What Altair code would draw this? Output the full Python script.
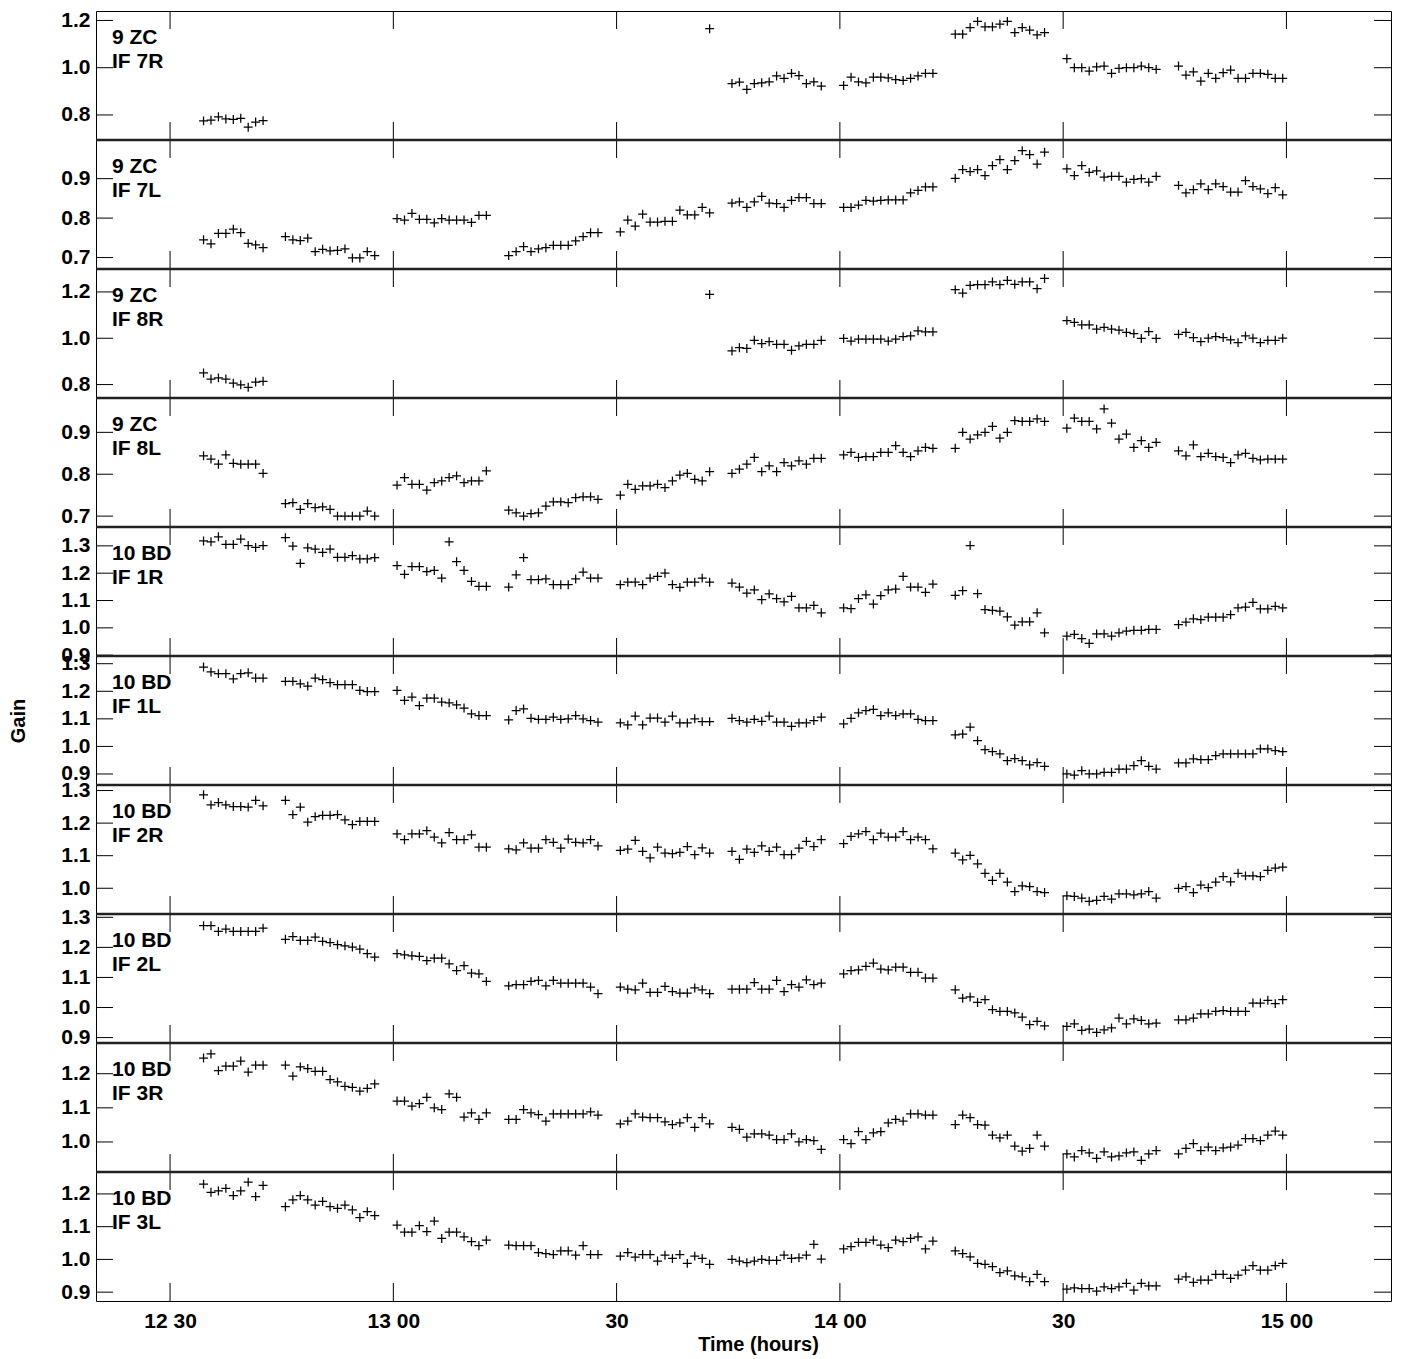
import pandas as pd
import altair as alt

FONT = "Liberation Sans"

# scan times in minutes after 12:00, one list per scan block
times = [
    [34.5, 35.5, 36.5, 37.5, 38.5, 39.5, 40.5, 41.5, 42.5],
    [45.5, 46.5, 47.5, 48.5, 49.5, 50.5, 51.5, 52.5, 53.5, 54.5, 55.5, 56.5, 57.5],
    [60.5, 61.5, 62.5, 63.5, 64.5, 65.5, 66.5, 67.5, 68.5, 69.5, 70.5, 71.5, 72.5],
    [75.5, 76.5, 77.5, 78.5, 79.5, 80.5, 81.5, 82.5, 83.5, 84.5, 85.5, 86.5, 87.5],
    [90.5, 91.5, 92.5, 93.5, 94.5, 95.5, 96.5, 97.5, 98.5, 99.5, 100.5, 101.5, 102.5],
    [105.5, 106.5, 107.5, 108.5, 109.5, 110.5, 111.5, 112.5, 113.5, 114.5, 115.5, 116.5, 117.5],
    [120.5, 121.5, 122.5, 123.5, 124.5, 125.5, 126.5, 127.5, 128.5, 129.5, 130.5, 131.5, 132.5],
    [135.5, 136.5, 137.5, 138.5, 139.5, 140.5, 141.5, 142.5, 143.5, 144.5, 145.5, 146.5, 147.5],
    [150.5, 151.5, 152.5, 153.5, 154.5, 155.5, 156.5, 157.5, 158.5, 159.5, 160.5, 161.5, 162.5],
    [165.5, 166.5, 167.5, 168.5, 169.5, 170.5, 171.5, 172.5, 173.5, 174.5, 175.5, 176.5, 177.5, 178.5, 179.5],
]

gap = [None] * 13  # scan block with no solution

gain_9zc_7r = [
    [0.775, 0.778, 0.792, 0.783, 0.781, 0.786, 0.748, 0.770, 0.776],
    gap, gap, gap,
    [None, None, None, None, None, None, None, None, None, None, None, None, 1.165],
    [0.933, 0.939, 0.908, 0.933, 0.936, 0.940, 0.965, 0.955, 0.976, 0.967, 0.933, 0.940, 0.922],
    [0.925, 0.960, 0.940, 0.936, 0.960, 0.960, 0.957, 0.950, 0.946, 0.955, 0.965, 0.976, 0.976],
    [1.142, 1.142, 1.170, 1.196, 1.173, 1.173, 1.184, 1.196, 1.149, 1.170, 1.159, 1.139, 1.149],
    [1.038, 1.000, 1.000, 0.986, 1.003, 1.007, 0.976, 0.997, 1.000, 1.000, 1.007, 1.000, 0.993],
    [1.007, 0.969, 0.982, 0.943, 0.976, 0.955, 0.979, 0.990, 0.955, 0.955, 0.976, 0.976, 0.972, 0.955, 0.955],
]

gain_9zc_7l = [
    [0.745, 0.735, 0.761, 0.761, 0.772, 0.763, 0.736, 0.732, 0.725],
    [0.753, 0.745, 0.743, 0.749, 0.715, 0.721, 0.717, 0.718, 0.722, 0.699, 0.699, 0.715, 0.705],
    [0.799, 0.795, 0.812, 0.797, 0.797, 0.788, 0.799, 0.795, 0.795, 0.795, 0.789, 0.807, 0.807],
    [0.705, 0.715, 0.728, 0.715, 0.722, 0.725, 0.731, 0.731, 0.731, 0.742, 0.753, 0.763, 0.763],
    [0.765, 0.795, 0.780, 0.810, 0.790, 0.790, 0.792, 0.792, 0.820, 0.808, 0.808, 0.827, 0.813],
    [0.838, 0.841, 0.827, 0.841, 0.855, 0.838, 0.837, 0.827, 0.845, 0.852, 0.852, 0.837, 0.837],
    [0.827, 0.827, 0.833, 0.845, 0.843, 0.845, 0.846, 0.846, 0.846, 0.864, 0.870, 0.879, 0.879],
    [0.901, 0.923, 0.918, 0.923, 0.908, 0.933, 0.948, 0.923, 0.946, 0.971, 0.961, 0.937, 0.967],
    [0.925, 0.908, 0.933, 0.916, 0.920, 0.904, 0.906, 0.906, 0.891, 0.898, 0.900, 0.891, 0.906],
    [0.883, 0.864, 0.872, 0.887, 0.872, 0.887, 0.880, 0.866, 0.866, 0.895, 0.880, 0.874, 0.862, 0.877, 0.859],
]

gain_9zc_8r = [
    [0.850, 0.824, 0.829, 0.824, 0.806, 0.799, 0.788, 0.811, 0.814],
    gap, gap, gap,
    [None, None, None, None, None, None, None, None, None, None, None, None, 1.189],
    [0.945, 0.959, 0.956, 0.991, 0.977, 0.985, 0.974, 0.974, 0.948, 0.967, 0.974, 0.974, 0.991],
    [0.999, 0.988, 0.996, 0.996, 0.996, 0.996, 0.988, 0.996, 1.007, 1.010, 1.032, 1.028, 1.028],
    [1.210, 1.195, 1.228, 1.231, 1.231, 1.243, 1.231, 1.250, 1.233, 1.243, 1.243, 1.214, 1.258],
    [1.076, 1.068, 1.058, 1.058, 1.039, 1.047, 1.039, 1.035, 1.025, 1.020, 0.999, 1.029, 0.999],
    [1.017, 1.025, 1.003, 0.985, 1.000, 1.007, 1.003, 0.993, 0.981, 1.010, 1.000, 0.981, 0.991, 0.991, 1.000],
]

gain_9zc_8l = [
    [0.844, 0.836, 0.824, 0.846, 0.826, 0.824, 0.824, 0.824, 0.802],
    [0.730, 0.732, 0.716, 0.730, 0.720, 0.722, 0.716, 0.700, 0.700, 0.700, 0.700, 0.712, 0.700],
    [0.774, 0.792, 0.776, 0.776, 0.762, 0.780, 0.784, 0.792, 0.796, 0.780, 0.784, 0.784, 0.808],
    [0.714, 0.708, 0.700, 0.706, 0.708, 0.724, 0.734, 0.734, 0.732, 0.744, 0.746, 0.746, 0.740],
    [0.750, 0.776, 0.764, 0.772, 0.772, 0.776, 0.768, 0.784, 0.798, 0.802, 0.788, 0.784, 0.806],
    [0.802, 0.812, 0.824, 0.840, 0.806, 0.820, 0.806, 0.828, 0.820, 0.832, 0.824, 0.838, 0.838],
    [0.846, 0.852, 0.840, 0.842, 0.842, 0.852, 0.852, 0.868, 0.852, 0.842, 0.856, 0.864, 0.862],
    [0.862, 0.900, 0.884, 0.894, 0.900, 0.914, 0.886, 0.900, 0.928, 0.926, 0.926, 0.932, 0.926],
    [0.910, 0.934, 0.926, 0.926, 0.908, 0.956, 0.922, 0.884, 0.896, 0.864, 0.880, 0.864, 0.876],
    [0.856, 0.844, 0.870, 0.842, 0.850, 0.842, 0.840, 0.828, 0.846, 0.850, 0.838, 0.834, 0.836, 0.836, 0.836],
]

gain_10bd_1r = [
    [1.318, 1.315, 1.333, 1.305, 1.305, 1.325, 1.301, 1.294, 1.301],
    [1.330, 1.299, 1.236, 1.293, 1.288, 1.276, 1.288, 1.258, 1.258, 1.264, 1.252, 1.252, 1.257],
    [1.228, 1.196, 1.224, 1.224, 1.206, 1.210, 1.182, 1.315, 1.242, 1.210, 1.170, 1.152, 1.152],
    [1.149, 1.194, 1.257, 1.176, 1.176, 1.179, 1.158, 1.158, 1.158, 1.179, 1.204, 1.182, 1.182],
    [1.158, 1.167, 1.167, 1.158, 1.182, 1.188, 1.200, 1.158, 1.148, 1.167, 1.167, 1.182, 1.167],
    [1.164, 1.149, 1.127, 1.139, 1.103, 1.124, 1.107, 1.095, 1.115, 1.073, 1.073, 1.082, 1.055],
    [1.073, 1.070, 1.107, 1.121, 1.087, 1.118, 1.139, 1.142, 1.188, 1.149, 1.149, 1.130, 1.160],
    [1.119, 1.136, 1.301, 1.125, 1.067, 1.064, 1.061, 1.040, 1.010, 1.022, 1.022, 1.055, 0.982],
    [0.970, 0.976, 0.961, 0.943, 0.978, 0.978, 0.970, 0.982, 0.988, 0.991, 0.991, 0.994, 0.994],
    [1.012, 1.021, 1.033, 1.030, 1.039, 1.039, 1.039, 1.048, 1.073, 1.076, 1.093, 1.069, 1.069, 1.079, 1.073],
]

gain_10bd_1l = [
    [1.288, 1.270, 1.264, 1.264, 1.245, 1.264, 1.267, 1.248, 1.248],
    [1.236, 1.236, 1.227, 1.219, 1.248, 1.242, 1.231, 1.224, 1.224, 1.224, 1.203, 1.199, 1.199],
    [1.203, 1.167, 1.179, 1.148, 1.175, 1.175, 1.161, 1.158, 1.151, 1.139, 1.118, 1.112, 1.112],
    [1.096, 1.130, 1.136, 1.102, 1.098, 1.098, 1.106, 1.098, 1.100, 1.112, 1.100, 1.094, 1.088],
    [1.085, 1.078, 1.110, 1.078, 1.103, 1.103, 1.088, 1.110, 1.085, 1.085, 1.100, 1.090, 1.090],
    [1.102, 1.094, 1.088, 1.098, 1.091, 1.110, 1.088, 1.088, 1.073, 1.085, 1.085, 1.094, 1.106],
    [1.082, 1.102, 1.122, 1.130, 1.134, 1.112, 1.122, 1.112, 1.118, 1.118, 1.098, 1.094, 1.094],
    [1.042, 1.045, 1.070, 1.021, 0.988, 0.981, 0.973, 0.948, 0.956, 0.948, 0.933, 0.941, 0.928],
    [0.900, 0.896, 0.912, 0.900, 0.900, 0.906, 0.906, 0.918, 0.918, 0.930, 0.948, 0.928, 0.918],
    [0.940, 0.940, 0.955, 0.952, 0.952, 0.967, 0.973, 0.973, 0.973, 0.973, 0.973, 0.991, 0.991, 0.985, 0.981],
]

gain_10bd_2r = [
    [1.287, 1.256, 1.263, 1.256, 1.251, 1.251, 1.249, 1.270, 1.253],
    [1.270, 1.226, 1.249, 1.203, 1.220, 1.224, 1.224, 1.226, 1.210, 1.195, 1.205, 1.205, 1.205],
    [1.167, 1.149, 1.167, 1.167, 1.177, 1.157, 1.139, 1.171, 1.149, 1.149, 1.164, 1.126, 1.126],
    [1.121, 1.118, 1.139, 1.123, 1.123, 1.149, 1.141, 1.123, 1.151, 1.141, 1.139, 1.149, 1.130],
    [1.116, 1.120, 1.147, 1.113, 1.093, 1.126, 1.108, 1.106, 1.110, 1.128, 1.103, 1.124, 1.108],
    [1.113, 1.089, 1.120, 1.110, 1.130, 1.113, 1.126, 1.103, 1.103, 1.123, 1.144, 1.128, 1.149],
    [1.137, 1.159, 1.167, 1.174, 1.149, 1.169, 1.157, 1.157, 1.174, 1.149, 1.157, 1.149, 1.121],
    [1.108, 1.087, 1.101, 1.075, 1.046, 1.024, 1.046, 1.019, 0.990, 1.007, 1.005, 0.990, 0.987],
    [0.977, 0.975, 0.970, 0.960, 0.963, 0.975, 0.967, 0.983, 0.983, 0.980, 0.983, 0.990, 0.970],
    [1.000, 1.005, 0.987, 1.010, 1.002, 1.019, 1.036, 1.020, 1.046, 1.038, 1.038, 1.036, 1.055, 1.062, 1.065],
]

gain_10bd_2l = [
    [1.272, 1.272, 1.253, 1.261, 1.253, 1.253, 1.253, 1.253, 1.264],
    [1.227, 1.236, 1.223, 1.223, 1.234, 1.220, 1.216, 1.209, 1.205, 1.201, 1.194, 1.179, 1.168],
    [1.179, 1.175, 1.172, 1.170, 1.156, 1.164, 1.164, 1.145, 1.123, 1.139, 1.114, 1.112, 1.087],
    [1.072, 1.076, 1.076, 1.087, 1.090, 1.072, 1.090, 1.081, 1.081, 1.081, 1.081, 1.068, 1.046],
    [1.068, 1.061, 1.059, 1.081, 1.050, 1.050, 1.070, 1.053, 1.048, 1.048, 1.065, 1.059, 1.046],
    [1.061, 1.061, 1.061, 1.083, 1.061, 1.061, 1.090, 1.053, 1.076, 1.068, 1.092, 1.076, 1.081],
    [1.112, 1.123, 1.125, 1.137, 1.148, 1.128, 1.125, 1.134, 1.134, 1.117, 1.117, 1.098, 1.098],
    [1.059, 1.031, 1.035, 1.017, 1.026, 0.993, 0.987, 0.987, 0.982, 0.968, 0.943, 0.954, 0.939],
    [0.937, 0.946, 0.924, 0.928, 0.917, 0.926, 0.932, 0.965, 0.946, 0.962, 0.957, 0.946, 0.948],
    [0.959, 0.959, 0.965, 0.979, 0.979, 0.987, 0.990, 0.987, 0.987, 0.987, 1.015, 1.015, 1.024, 1.013, 1.026],
]

gain_10bd_3r = [
    [1.246, 1.258, 1.209, 1.222, 1.222, 1.237, 1.205, 1.225, 1.225],
    [1.225, 1.193, 1.220, 1.215, 1.207, 1.207, 1.183, 1.176, 1.163, 1.160, 1.149, 1.157, 1.170],
    [1.120, 1.120, 1.105, 1.112, 1.131, 1.100, 1.095, 1.141, 1.131, 1.073, 1.085, 1.066, 1.085],
    [1.066, 1.066, 1.095, 1.085, 1.080, 1.061, 1.082, 1.082, 1.082, 1.082, 1.082, 1.088, 1.079],
    [1.053, 1.061, 1.082, 1.073, 1.071, 1.071, 1.059, 1.051, 1.056, 1.071, 1.043, 1.071, 1.053],
    [1.043, 1.037, 1.014, 1.024, 1.024, 1.020, 1.007, 1.007, 1.024, 1.000, 1.007, 1.004, 0.978],
    [1.007, 0.995, 1.030, 1.007, 1.027, 1.030, 1.056, 1.066, 1.061, 1.082, 1.082, 1.079, 1.079],
    [1.051, 1.079, 1.071, 1.051, 1.049, 1.020, 1.012, 1.020, 0.988, 0.973, 0.981, 1.020, 0.988],
    [0.965, 0.956, 0.975, 0.968, 0.952, 0.971, 0.956, 0.959, 0.968, 0.971, 0.946, 0.965, 0.975],
    [0.965, 0.981, 0.995, 0.975, 0.985, 0.975, 0.983, 0.985, 0.991, 1.010, 1.010, 1.004, 1.020, 1.032, 1.020],
]

gain_10bd_3l = [
    [1.230, 1.205, 1.209, 1.217, 1.195, 1.209, 1.236, 1.192, 1.226],
    [1.161, 1.182, 1.195, 1.182, 1.166, 1.177, 1.161, 1.156, 1.166, 1.151, 1.128, 1.146, 1.134],
    [1.105, 1.083, 1.083, 1.103, 1.085, 1.117, 1.064, 1.083, 1.083, 1.069, 1.054, 1.042, 1.059],
    [1.044, 1.042, 1.042, 1.042, 1.021, 1.018, 1.015, 1.026, 1.026, 1.013, 1.042, 1.015, 1.015],
    [1.010, 1.021, 1.007, 1.015, 1.015, 0.995, 1.013, 1.003, 1.015, 0.988, 1.010, 1.003, 0.985],
    [1.000, 0.995, 0.990, 0.995, 1.000, 0.997, 0.997, 1.013, 1.003, 1.005, 1.013, 1.046, 1.001],
    [1.032, 1.039, 1.052, 1.052, 1.059, 1.044, 1.036, 1.059, 1.054, 1.064, 1.069, 1.032, 1.056],
    [1.026, 1.018, 1.008, 0.988, 0.985, 0.978, 0.960, 0.965, 0.950, 0.947, 0.932, 0.954, 0.932],
    [0.909, 0.913, 0.911, 0.911, 0.903, 0.916, 0.911, 0.916, 0.927, 0.906, 0.927, 0.919, 0.919],
    [0.940, 0.947, 0.930, 0.937, 0.937, 0.954, 0.954, 0.942, 0.952, 0.967, 0.981, 0.967, 0.967, 0.981, 0.988],
]

# panel labels, y limits and y tick values (top to bottom)
antennas = ["9 ZC", "9 ZC", "9 ZC", "9 ZC", "10 BD", "10 BD", "10 BD", "10 BD", "10 BD", "10 BD"]
ifs = ["IF 7R", "IF 7L", "IF 8R", "IF 8L", "IF 1R", "IF 1L", "IF 2R", "IF 2L", "IF 3R", "IF 3L"]
series = [gain_9zc_7r, gain_9zc_7l, gain_9zc_8r, gain_9zc_8l, gain_10bd_1r,
          gain_10bd_1l, gain_10bd_2r, gain_10bd_2l, gain_10bd_3r, gain_10bd_3l]
y_domains = [
    [0.694, 1.240], [0.671, 0.998], [0.742, 1.299], [0.674, 0.982], [0.897, 1.369],
    [0.860, 1.328], [0.921, 1.317], [0.882, 1.311], [0.912, 1.290], [0.873, 1.267],
]
y_ticks = [
    [0.8, 1.0, 1.2], [0.7, 0.8, 0.9], [0.8, 1.0, 1.2], [0.7, 0.8, 0.9],
    [0.9, 1.0, 1.1, 1.2, 1.3], [0.9, 1.0, 1.1, 1.2, 1.3], [1.0, 1.1, 1.2, 1.3],
    [0.9, 1.0, 1.1, 1.2, 1.3], [1.0, 1.1, 1.2], [0.9, 1.0, 1.1, 1.2],
]

x_domain = [20.05, 194.05]
x_tick_vals = [30, 60, 90, 120, 150, 180]
x_tick_text = ["12 30", "13 00", "30", "14 00", "30", "15 00"]

W = 1295
H = 129.0
TICK = 17
PLUS = "M-1,0L1,0M0,-1L0,1"

label_expr = "".join(
    f"datum.value == {v} ? '{s}' : " for v, s in zip(x_tick_vals, x_tick_text)
) + "''"

flat_times = [t for block in times for t in block]
x_scale = alt.Scale(domain=x_domain, nice=False, zero=False)
dummy = alt.Data(values=[{}])

panels = []
for i in range(10):
    vals = [v for block in series[i] for v in block]
    df = pd.DataFrame({"t": flat_times, "g": vals}).dropna()
    y_scale = alt.Scale(domain=y_domains[i], nice=False, zero=False)

    # every layer gets the same axis spec so the layer merge keeps it
    if i == 9:
        x_axis = alt.Axis(values=x_tick_vals, labelExpr=label_expr, title="Time (hours)",
                          labelPadding=9, titlePadding=3, titleX=662, labelOverlap=False)
    else:
        x_axis = None

    y_axis = alt.Axis(values=y_ticks[i], format=".1f", labelPadding=6,
                      labelOverlap=False, title="Gain" if i == 5 else None,
                      titlePadding=32)

    pts = alt.Chart(df).mark_point(
        shape=PLUS, size=80, filled=False, strokeWidth=1.25, color="black", opacity=1
    ).encode(
        x=alt.X("t:Q", scale=x_scale, axis=x_axis),
        y=alt.Y("g:Q", scale=y_scale, axis=y_axis),
    )

    ydf = pd.DataFrame({"g": y_ticks[i]})
    ytick_l = alt.Chart(ydf).mark_rule(color="black", strokeWidth=1).encode(
        y=alt.Y("g:Q", scale=y_scale, axis=y_axis), x=alt.value(0), x2=alt.value(TICK))
    ytick_r = alt.Chart(ydf).mark_rule(color="black", strokeWidth=1).encode(
        y=alt.Y("g:Q", scale=y_scale, axis=y_axis), x=alt.value(W - TICK), x2=alt.value(W))

    xdf = pd.DataFrame({"t": x_tick_vals})
    xtick_t = alt.Chart(xdf).mark_rule(color="black", strokeWidth=1).encode(
        x=alt.X("t:Q", scale=x_scale, axis=x_axis), y=alt.value(0), y2=alt.value(18))
    xtick_b = alt.Chart(xdf).mark_rule(color="black", strokeWidth=1).encode(
        x=alt.X("t:Q", scale=x_scale, axis=x_axis), y=alt.value(H - 18), y2=alt.value(H))

    txt_style = dict(align="left", baseline="alphabetic", font=FONT, fontSize=21,
                     fontWeight="bold", color="black")
    t1 = alt.Chart(dummy).mark_text(**txt_style).encode(
        x=alt.value(16), y=alt.value(33), text=alt.value(antennas[i]))
    t2 = alt.Chart(dummy).mark_text(**txt_style).encode(
        x=alt.value(16), y=alt.value(57), text=alt.value(ifs[i]))

    layers = [pts, ytick_l, ytick_r, xtick_t, xtick_b, t1, t2]
    if i > 0:
        sep = alt.Chart(dummy).mark_rule(color="#222222", strokeWidth=2.5).encode(
            x=alt.value(0), x2=alt.value(W), y=alt.value(0))
        layers.append(sep)

    panels.append(alt.layer(*layers).properties(width=W, height=H))

chart = alt.vconcat(*panels, spacing=0, bounds="flush").properties(
    padding=0
).configure_view(
    stroke="black", strokeWidth=1
).configure_axis(
    labelFont=FONT, labelFontSize=21, labelFontWeight="bold", labelColor="black",
    titleFont=FONT, titleFontSize=20, titleFontWeight="bold", titleColor="black",
    grid=False, ticks=False, domain=False
)

chart.save("out.html", embed_options={"renderer": "svg", "actions": False})
